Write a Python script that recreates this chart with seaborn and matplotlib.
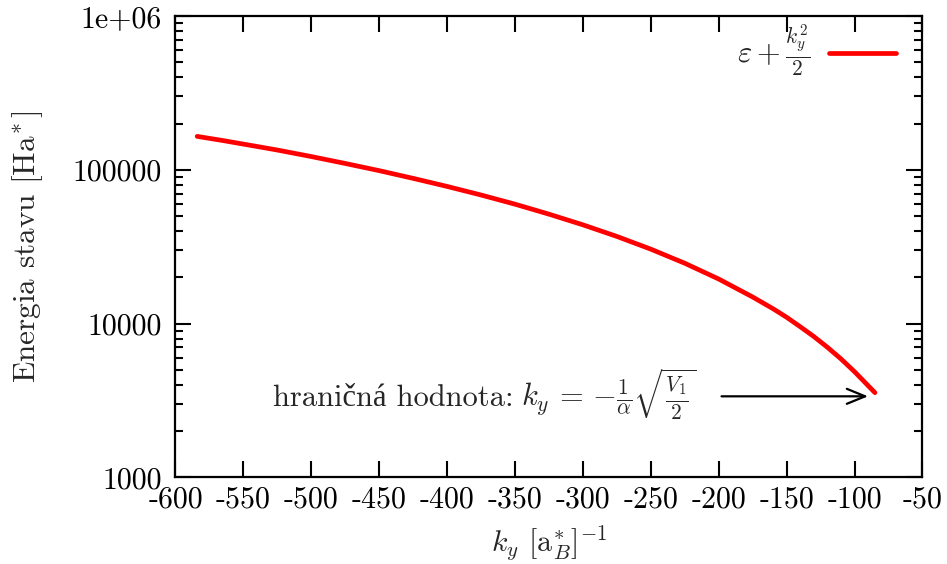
import numpy as np
import pandas as pd
import matplotlib
matplotlib.use("Agg")
import matplotlib.pyplot as plt
from matplotlib.ticker import FixedLocator, FixedFormatter, LogLocator, NullFormatter
import seaborn as sns

# ---- data ----
ky = [-584, -565, -550, -525, -500, -475, -450, -425, -400, -375, -350, -325,
      -300, -275, -250, -225, -200, -175, -160, -150, -140, -130, -120, -110,
      -100, -92, -85]
energy = [165000, 155000, 147000, 134500, 122000, 110000, 98800, 88000, 78000,
          68600, 59800, 51500, 43900, 36900, 30500, 24700, 19500, 14900, 12500,
          11000, 9550, 8250, 7020, 5900, 4870, 4120, 3560]
x_ticks = [-600, -550, -500, -450, -400, -350, -300, -250, -200, -150, -100, -50]
x_tick_labels = ["-600", "-550", "-500", "-450", "-400", "-350", "-300", "-250",
                 "-200", "-150", "-100", "-50"]
y_ticks = [1000, 10000, 100000, 1000000]
y_tick_labels = ["1000", "10000", "100000", "1e+06"]
legend_label = r"$\varepsilon + \frac{k_y^2}{2}$"
annot_words = "hraničná hodnota:"
annot_math = r"$k_y\,=\,{-}\frac{1}{\alpha}\sqrt{\frac{V_1}{2}}$"

df = pd.DataFrame({"ky": ky, "E": energy})

sns.set_theme(style="ticks")
plt.rcParams["font.family"] = ["cmr10", "Liberation Serif"]
plt.rcParams["mathtext.fontset"] = "cm"
plt.rcParams["axes.unicode_minus"] = False
plt.rcParams["axes.formatter.use_mathtext"] = True

fig = plt.figure(figsize=(9.47, 5.64), dpi=100)
ax = fig.add_axes([0.1853, 0.1534, 0.7888, 0.8182])

sns.lineplot(data=df, x="ky", y="E", ax=ax, color="#ff0000", linewidth=3.4,
             label=legend_label)

ax.set_yscale("log")
ax.set_xlim(-600, -50)
ax.set_ylim(1000, 1e6)

ax.xaxis.set_major_locator(FixedLocator(x_ticks))
ax.xaxis.set_major_formatter(FixedFormatter(x_tick_labels))
ax.yaxis.set_major_locator(FixedLocator(y_ticks))
ax.yaxis.set_major_formatter(FixedFormatter(y_tick_labels))
ax.yaxis.set_minor_locator(LogLocator(base=10, subs=np.arange(2, 10)))
ax.yaxis.set_minor_formatter(NullFormatter())

ax.tick_params(which="both", direction="in", top=True, right=True,
               width=1.5, labelsize=21.5, colors="black")
ax.tick_params(which="major", length=11.5)
ax.tick_params(which="minor", length=5.8)
ax.tick_params(axis="x", which="major", pad=6)
ax.tick_params(axis="y", which="major", pad=10)

for s in ax.spines.values():
    s.set_linewidth(1.6)
    s.set_color("black")

ax.set_xlabel(r"$k_y$ [$\mathrm{a}^{\!*}_B$]$^{-1}$", fontsize=21.5, labelpad=7)
ax.set_ylabel(r"Energia stavu [H$\mathrm{a}^{\!*}$]", fontsize=22.5, labelpad=20)

leg = ax.legend(loc="center right", bbox_to_anchor=(0.965, 0.925),
                frameon=False, markerfirst=False, fontsize=22,
                handlelength=2.2, handletextpad=0.6, borderpad=0,
                borderaxespad=0)

ax.annotate("", xy=(-88, 3370), xytext=(-200, 3370),
            arrowprops=dict(arrowstyle="->,head_length=1.1,head_width=0.45",
                            color="black", lw=1.6))
math_txt = ax.text(-216, 2900, annot_math, fontsize=22, ha="right",
                   va="baseline")
ax.annotate(annot_words, xy=(0, 2900), xycoords=(math_txt, "data"),
            xytext=(-6, 0), textcoords="offset points",
            fontsize=22, ha="right", va="baseline",
            family=["cmr10", "Liberation Serif"])

fig.savefig("out.png", dpi=100)
